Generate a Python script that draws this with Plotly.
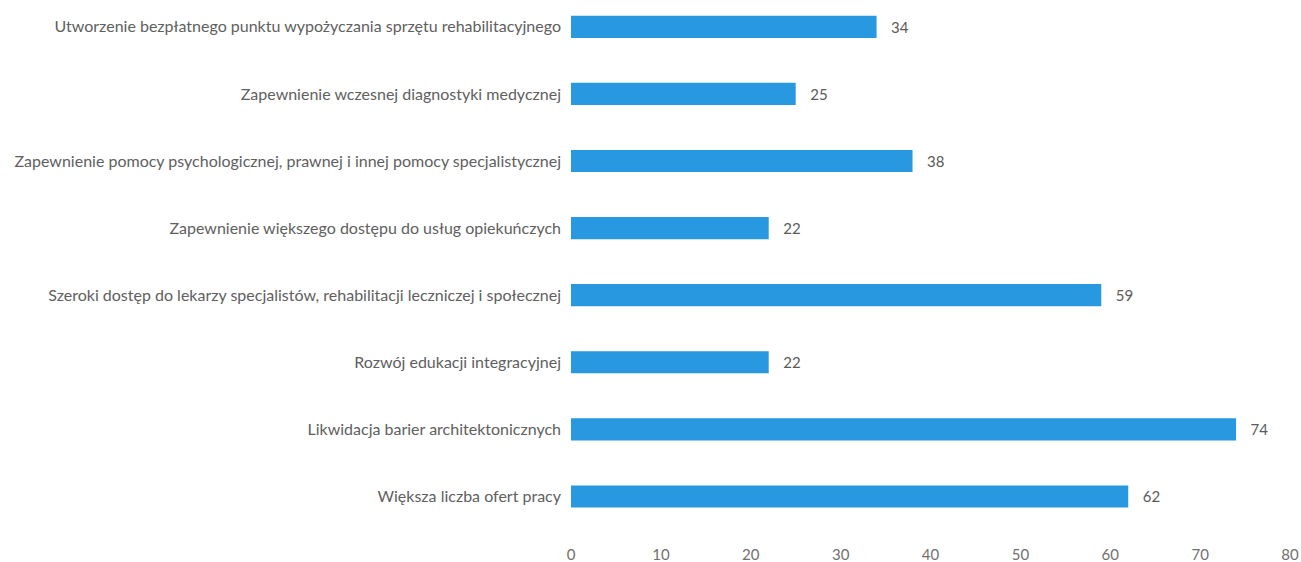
import plotly.graph_objects as go

categories = [
    "Większa liczba ofert pracy",
    "Likwidacja barier architektonicznych",
    "Rozwój edukacji integracyjnej",
    "Szeroki dostęp do lekarzy specjalistów, rehabilitacji leczniczej i społecznej",
    "Zapewnienie większego dostępu do usług opiekuńczych",
    "Zapewnienie pomocy psychologicznej, prawnej i innej pomocy specjalistycznej",
    "Zapewnienie wczesnej diagnostyki medycznej",
    "Utworzenie bezpłatnego punktu wypożyczania sprzętu rehabilitacyjnego",
]
values = [62, 74, 22, 59, 22, 38, 25, 34]
x_ticks = [0, 10, 20, 30, 40, 50, 60, 70, 80]

fig = go.Figure(go.Bar(
    y=categories, x=values, orientation="h",
    text=values, texttemplate="   %{x}", textposition="outside", cliponaxis=False,
    marker_color="#2898e0", marker_line_width=0,
    textfont=dict(color="#5a5a5a", size=15),
))

fig.update_layout(
    width=1301, height=562,
    margin=dict(l=571, r=11, t=0, b=32),
    bargap=0.67,
    font=dict(family="Lato, Open Sans, sans-serif", size=16, color="#606060"),
    paper_bgcolor="white", plot_bgcolor="white",
    showlegend=False,
)
fig.update_xaxes(range=[0, 80], tickvals=x_ticks, showgrid=False, zeroline=False,
                 showline=False, ticklabelstandoff=14,
                 tickfont=dict(color="#707070", size=15))
fig.update_yaxes(range=[-0.5, 7.4], showgrid=False, showline=False,
                 ticklabelstandoff=9, automargin=False)

# drop the default body margin so the figure fills the window exactly
fig.write_html("out.html", config={"displayModeBar": False},
               post_script="document.body.style.margin='0';document.body.style.overflow='hidden';")
